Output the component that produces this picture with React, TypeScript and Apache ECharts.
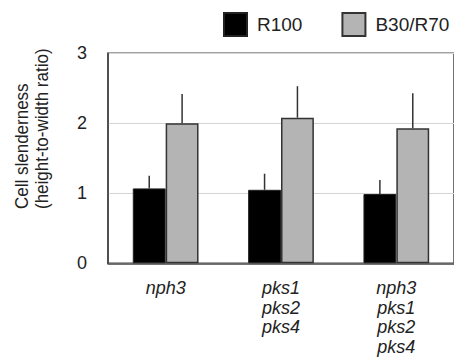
import React, { useEffect, useRef } from "react";
import * as echarts from "echarts";

const categories = ["nph3", "pks1\npks2\npks4", "nph3\npks1\npks2\npks4"];
const seriesNames = ["R100", "B30/R70"];
const r100 = [1.07, 1.05, 0.99];
const r100Err = [0.18, 0.23, 0.2];
const b30r70 = [2.0, 2.08, 1.93];
const b30r70Err = [0.42, 0.45, 0.5];
const yTicks = [0, 1, 2, 3];

const FONT = "'Liberation Sans', Arial, sans-serif";

export default function App() {
  const ref = useRef<HTMLDivElement>(null);
  useEffect(() => {
    document.body.style.margin = "0";
    const chart = echarts.init(ref.current!, null, { renderer: "svg" });
    const barGapFrac = 0.43;
    const half = (1 - barGapFrac) / 4;
    const errSeries = (vals: number[], errs: number[], offset: number) => ({
      type: "custom",
      silent: true,
      z: 5,
      data: vals.map((v, i) => [i, v, errs[i]]),
      renderItem: (params: any, api: any) => {
        const i = api.value(0);
        const v = api.value(1);
        const e = api.value(2);
        const band = api.size([1, 0])[0];
        const p0 = api.coord([i, v]);
        const p1 = api.coord([i, v + e]);
        const x = p0[0] + offset * band;
        return {
          type: "line",
          shape: { x1: x, y1: p0[1], x2: x, y2: p1[1] },
          style: { stroke: "#333", lineWidth: 1.5 },
        };
      },
    });
    chart.setOption({
      animation: false,
      textStyle: { fontFamily: FONT },
      legend: {
        left: 218,
        top: 7,
        width: 236,
        orient: "horizontal",
        icon: "rect",
        itemWidth: 23,
        itemHeight: 23,
        itemGap: 39,
        data: seriesNames,
        textStyle: { fontSize: 19, color: "#222", fontFamily: FONT, padding: [0, 0, 0, 5] },
      },
      grid: {
        left: 108,
        right: -4,
        top: 53.3,
        bottom: 99.7,
        show: true,
        borderColor: "#444",
        borderWidth: 1.5,
        containLabel: false,
      },
      xAxis: {
        type: "category",
        data: categories,
        axisTick: { show: false },
        axisLine: { lineStyle: { color: "#444", width: 1.5 } },
        axisLabel: {
          fontSize: 18,
          fontStyle: "italic",
          lineHeight: 19.5,
          color: "#222",
          margin: 15,
          fontFamily: FONT,
          align: "center",
        },
      },
      yAxis: {
        type: "value",
        min: yTicks[0],
        max: yTicks[yTicks.length - 1],
        interval: 1,
        axisLine: { show: true, lineStyle: { color: "#444", width: 1.5 } },
        axisTick: { show: false },
        axisLabel: { fontSize: 18, color: "#222", margin: 21, fontFamily: FONT },
        splitLine: { lineStyle: { color: "#d4d4d4", width: 1 } },
      },
      graphic: [
        {
          type: "text",
          x: 12,
          y: 209,
          rotation: Math.PI / 2,
          scaleY: 1.05,
          style: {
            text: "Cell slenderness\n(height-to-width ratio)",
            fontSize: 17,
            lineHeight: 19,
            fill: "#222",
            fontFamily: FONT,
            textAlign: "left",
            textVerticalAlign: "top",
          },
        },
      ],
      series: [
        {
          name: seriesNames[0],
          type: "bar",
          data: r100,
          barGap: "0%",
          barCategoryGap: barGapFrac * 100 + "%",
          itemStyle: { color: "#000", borderColor: "#222", borderWidth: 1 },
        },
        {
          name: seriesNames[1],
          type: "bar",
          data: b30r70,
          barGap: "0%",
          barCategoryGap: barGapFrac * 100 + "%",
          itemStyle: { color: "#b4b4b4", borderColor: "#333", borderWidth: 1.5 },
        },
        errSeries(r100, r100Err, -half),
        errSeries(b30r70, b30r70Err, half),
      ],
    });
    return () => chart.dispose();
  }, []);
  return <div ref={ref} style={{ width: 454, height: 363 }} />;
}
